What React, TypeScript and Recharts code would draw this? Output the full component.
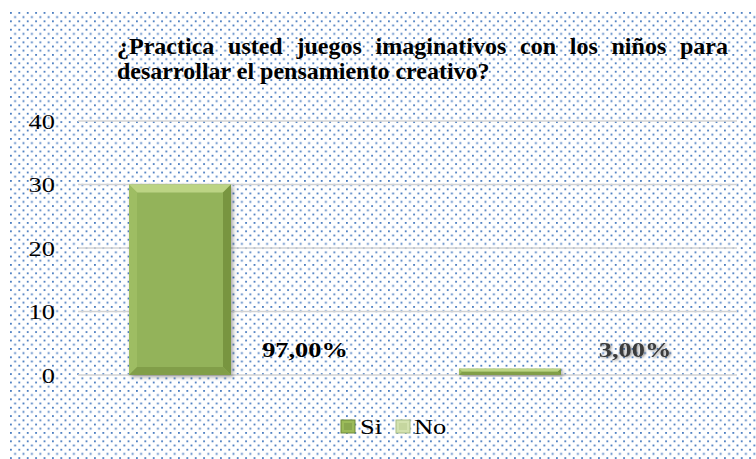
import React from "react";
import { BarChart, Bar, XAxis, YAxis, CartesianGrid, LabelList, Legend } from "recharts";

const titleLines = [
  "¿Practica usted juegos imaginativos con los niños para",
  "desarrollar el pensamiento creativo?",
];
const categories = ["Si", "No"];
const counts = [30, 1];
const pctLabels = ["97,00%", "3,00%"];
const yTicks = [0, 10, 20, 30, 40];
const legendColors = ["#9bbb59", "#d3e2b0"];

const data = categories.map((c, i) => ({ name: c, value: counts[i], pct: pctLabels[i] }));

const FONT = '"Liberation Serif", "Times New Roman", Times, serif';
const serif = { fontFamily: FONT };

const BevelBar = (props: any) => {
  const { x, y, width: w, height: h } = props;
  if (!h || h <= 0) return null;
  const b = Math.min(8, h / 2, w / 2);
  return (
    <g filter="url(#barShadow)">
      <rect x={x} y={y} width={w} height={h} fill="#93b35a" />
      <polygon points={`${x},${y} ${x + w},${y} ${x + w - b},${y + b} ${x + b},${y + b}`} fill="#bcd484" />
      <polygon points={`${x},${y} ${x + b},${y + b} ${x + b},${y + h - b} ${x},${y + h}`} fill="#9ebd63" />
      <polygon points={`${x + w},${y} ${x + w},${y + h} ${x + w - b},${y + h - b} ${x + w - b},${y + b}`} fill="#78953f" />
      <polygon points={`${x},${y + h} ${x + w},${y + h} ${x + w - b},${y + h - b} ${x + b},${y + h - b}`} fill="#819e49" />
    </g>
  );
};

const YTick = (props: any) => {
  const { x, y, payload } = props;
  return (
    <text
      transform={`translate(${x},${y}) scale(1.2,1)`}
      textAnchor="end"
      dy="0.35em"
      fontSize={22}
      fontFamily={FONT}
      style={serif}
      fill="#000"
    >
      {payload.value}
    </text>
  );
};

const PctLabel = (props: any) => {
  const { x, y, width, height, value, index } = props;
  const cx = x + width / 2 + 125;
  const by = y + height - 18;
  return (
    <text
      transform={`translate(${cx},${by}) scale(1.2,1)`}
      textAnchor="middle"
      fontSize={22}
      fontWeight="bold"
      fontFamily={FONT}
      style={serif}
      fill={index === 0 ? "#000" : "#3a3a3a"}
      filter={index === 0 ? undefined : "url(#textShadow)"}
    >
      {value}
    </text>
  );
};

const LegendContent = () => (
  <svg width={120} height={28} style={{ display: "block", overflow: "visible" }}>
    {categories.map((c, i) => {
      const sx = i === 0 ? 0 : 55;
      const tx = i === 0 ? 19 : 73;
      return (
        <g key={c}>
          <rect x={sx} y={6} width={14} height={13} fill={legendColors[i]} stroke={i === 0 ? "#6f8a3a" : "#a9bd86"} strokeWidth={1} />
          <rect x={sx + 3} y={9} width={8} height={7} fill={i === 0 ? "#8aa84f" : "#c5d69f"} />
          <text
            transform={`translate(${tx},20) scale(1.2,1)`}
            fontSize={22}
            fontFamily={FONT}
            style={serif}
            fill="#000"
          >
            {c}
          </text>
        </g>
      );
    })}
  </svg>
);

export default function App() {
  return (
    <div style={{ position: "absolute", left: 0, top: 0, width: 756, height: 459, background: "#fff", overflow: "hidden" }}>
      <svg width={756} height={459} style={{ position: "absolute", left: 0, top: 0 }}>
        <defs>
          <pattern id="dots" x={10} y={12} width={8.4} height={8.4} patternUnits="userSpaceOnUse">
            <rect x={0} y={0} width={1.8} height={1.8} fill="#4a7cc0" />
            <rect x={4.2} y={4.2} width={1.8} height={1.8} fill="#4a7cc0" />
          </pattern>
          <filter id="barShadow" x="-10%" y="-10%" width="130%" height="130%">
            <feDropShadow dx={2} dy={2} stdDeviation={2} floodColor="#000" floodOpacity={0.35} />
          </filter>
          <filter id="textShadow" x="-10%" y="-30%" width="130%" height="160%">
            <feDropShadow dx={1} dy={1} stdDeviation={1.2} floodColor="#000" floodOpacity={0.45} />
          </filter>
        </defs>
        <rect x={10} y={12} width={746} height={447} fill="url(#dots)" />
      </svg>
      <div
        style={{
          position: "absolute",
          left: 117,
          top: 34,
          width: 611,
          fontFamily: FONT,
          fontWeight: "bold",
          fontSize: 24,
          lineHeight: "25px",
          color: "#000",
        }}
      >
        <div style={{ textAlign: "justify", textAlignLast: "justify", whiteSpace: "nowrap" }}>{titleLines[0]}</div>
        <div style={{ whiteSpace: "nowrap" }}>{titleLines[1]}</div>
      </div>
      <div style={{ position: "absolute", left: 0, top: 0 }}>
        <BarChart
          width={756}
          height={459}
          data={data}
          margin={{ top: 121, right: 19, bottom: 84, left: 0 }}
          barSize={102}
        >
          <CartesianGrid horizontal vertical={false} stroke="#d3d3d3" strokeWidth={1.6} />
          <XAxis dataKey="name" hide padding={{ left: -63, right: 62 }} />
          <YAxis
            width={78}
            domain={[0, 40]}
            ticks={yTicks}
            axisLine={false}
            tickLine={false}
            tickMargin={17}
            tick={<YTick />}
            interval={0}
          />
          <Legend
            verticalAlign="middle"
            layout="horizontal"
            content={<LegendContent />}
            wrapperStyle={{ left: 341, top: 414, width: 120, height: 28 }}
          />
          <Bar dataKey="value" isAnimationActive={false} shape={<BevelBar />}>
            <LabelList dataKey="pct" content={<PctLabel />} />
          </Bar>
        </BarChart>
      </div>
    </div>
  );
}
